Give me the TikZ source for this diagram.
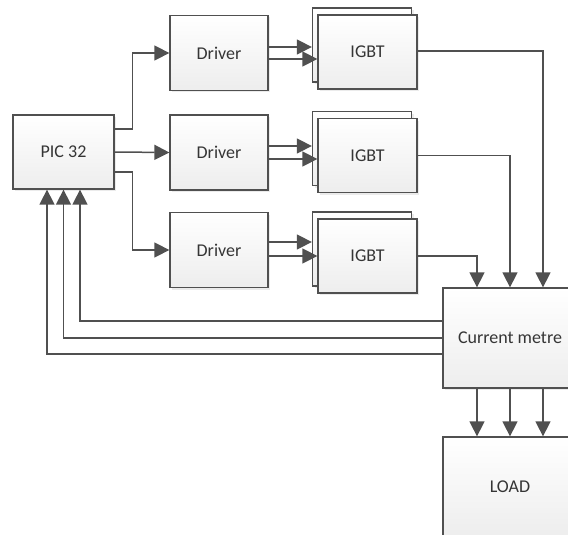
\documentclass[tikz,border=0pt]{standalone}
\usepackage{fontspec}
\setmainfont{Carlito}
\usetikzlibrary{arrows.meta,shadows}
\definecolor{linec}{HTML}{505050}
\definecolor{tipc}{HTML}{404040}
\definecolor{txtc}{HTML}{353535}
\begin{document}
\begin{tikzpicture}[x=1pt,y=-1pt,
  blk/.style={draw=linec, line width=1.3pt, inner sep=0pt,
    top color=white, bottom color=black!7,
    drop shadow={shadow xshift=2pt, shadow yshift=-2pt, opacity=0.2, fill=black!40},
    text=txtc, font=\fontsize{18}{20}\selectfont},
  arr/.style={draw=linec, line width=1.5pt, -{Triangle[length=15pt,width=15pt]}, color=linec},
  ln/.style={draw=linec, line width=1.5pt}]
\clip (0,0) rectangle (568,535);
\useasboundingbox (0,0) rectangle (568,535);
% PIC
\node[blk, minimum width=101pt, minimum height=74pt] (pic) at (63.5,152) {PIC 32};
% drivers
\node[blk, minimum width=98pt, minimum height=75pt] (d1) at (219,53) {Driver};
\node[blk, minimum width=98pt, minimum height=75pt] (d2) at (219,152.5) {Driver};
\node[blk, minimum width=98pt, minimum height=75pt] (d3) at (219,250) {Driver};
% IGBT back boxes
\node[blk, minimum width=99pt, minimum height=74pt] (i1b) at (362,45) {};
\node[blk, minimum width=99pt, minimum height=74pt] (i2b) at (362,148.5) {};
\node[blk, minimum width=99pt, minimum height=74pt] (i3b) at (362,249) {};
% IGBT front boxes
\node[blk, minimum width=99pt, minimum height=74pt] (i1) at (367.5,52) {IGBT};
\node[blk, minimum width=99pt, minimum height=74pt] (i2) at (367.5,155.5) {IGBT};
\node[blk, minimum width=99pt, minimum height=74pt] (i3) at (367.5,256) {IGBT};
% current metre and load
\node[blk, minimum width=134pt, minimum height=100pt] (cm) at (510,338) {Current metre};
\node[blk, minimum width=134pt, minimum height=100pt] (ld) at (510,487) {LOAD};
% PIC -> drivers
\draw[arr] ([yshift=23pt]pic.east) -- ++(17.7,0) |- (d1.west);
\draw[arr] (pic.east) -- (d2.west);
\draw[arr] ([yshift=-20pt]pic.east) -- ++(17.7,0) |- (d3.west);
% drivers -> IGBTs
\draw[arr] ([yshift=6pt]d1.east) -- ([yshift=6pt]d1.east -| i1b.west);
\draw[arr] ([yshift=-6pt]d1.east) -- ([yshift=-6pt]d1.east -| i1.west);
\draw[arr] ([yshift=6.5pt]d2.east) -- ([yshift=6.5pt]d2.east -| i2b.west);
\draw[arr] ([yshift=-6.5pt]d2.east) -- ([yshift=-6.5pt]d2.east -| i2.west);
\draw[arr] ([yshift=8pt]d3.east) -- ([yshift=8pt]d3.east -| i3b.west);
\draw[arr] ([yshift=-6pt]d3.east) -- ([yshift=-6pt]d3.east -| i3.west);
% IGBTs -> current metre
\draw[arr] ([yshift=1pt]i1.east) -| ([xshift=33pt]cm.north);
\draw[arr] (i2.east) -| (cm.north);
\draw[arr] (i3.east) -| ([xshift=-33pt]cm.north);
% current metre -> load
\draw[arr] ([xshift=-33pt]cm.south) -- ([xshift=-33pt]ld.north);
\draw[arr] (cm.south) -- (ld.north);
\draw[arr] ([xshift=33pt]cm.south) -- ([xshift=33pt]ld.north);
% feedback
\draw[arr] ([yshift=17pt]cm.west) -| ([xshift=16.5pt]pic.south);
\draw[arr] (cm.west) -| (pic.south);
\draw[arr] ([yshift=-16pt]cm.west) -| ([xshift=-16.5pt]pic.south);
\end{tikzpicture}
\end{document}
